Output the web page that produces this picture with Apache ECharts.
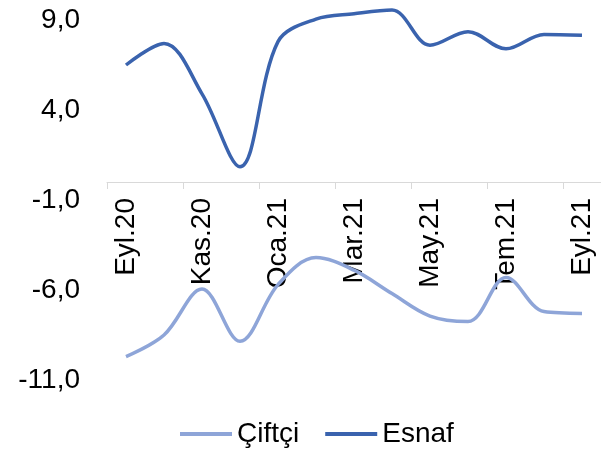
<!DOCTYPE html>
<html>
<head>
<meta charset="utf-8">
<script src="https://cdn.jsdelivr.net/npm/echarts@6/dist/echarts.min.js"></script>
<style>html,body{margin:0;padding:0;background:#fff}#c{width:601px;height:451px}</style>
</head>
<body>
<div id="c"></div>
<script>
const categories = ['Eyl.20','Eki.20','Kas.20','Ara.20','Oca.21','Şub.21','Mar.21','Nis.21','May.21','Haz.21','Tem.21','Ağu.21','Eyl.21'];
const ciftci = [-9.7, -8.5, -5.95, -8.85, -5.7, -4.2, -4.9, -6.2, -7.45, -7.75, -5.3, -7.2, -7.3];
const esnaf = [6.5, 7.7, 4.9, 0.85, 7.8, 9.05, 9.35, 9.55, 7.6, 8.35, 7.4, 8.2, 8.15];
const yTicks = {min: -11, max: 10, interval: 5};

const font = 'Liberation Sans, Arial, sans-serif';
const chart = echarts.init(document.getElementById('c'), null, {renderer: 'canvas'});
chart.setOption({
  animation: false,
  backgroundColor: '#ffffff',
  grid: {left: 107, right: 0, top: 2, bottom: 71, containLabel: false, outerBoundsMode: 'none'},
  legend: {
    top: 415, left: 175,
    icon: 'rect',
    itemWidth: 52, itemHeight: 4, itemGap: 26,
    textStyle: {fontFamily: font, fontSize: 28, color: '#000'},
    data: ['Çiftçi', 'Esnaf']
  },
  xAxis: {
    type: 'category',
    data: categories,
    boundaryGap: true,
    position: 'bottom',
    offset: -198,
    axisLine: {onZero: false, lineStyle: {color: '#d9d9d9', width: 1}},
    axisTick: {show: true, interval: 1, length: 7, lineStyle: {color: '#d9d9d9'}},
    axisLabel: {interval: 1, rotate: 90, margin: 16, fontFamily: font, fontSize: 28, color: '#000'}
  },
  yAxis: {
    type: 'value',
    min: yTicks.min, max: yTicks.max, interval: yTicks.interval,
    axisLine: {show: false}, axisTick: {show: false},
    splitLine: {show: false},
    axisLabel: {margin: 27, fontFamily: font, fontSize: 28, color: '#000', showMaxLabel: false,
      formatter: v => v > 9 ? '' : v.toFixed(1).replace('.', ',')}
  },
  series: [
    {name: 'Çiftçi', type: 'line', data: ciftci, smooth: 0.35, symbol: 'none', z: 5,
      lineStyle: {color: '#8ea5d8', width: 3.5}, itemStyle: {color: '#8ea5d8'}},
    {name: 'Esnaf', type: 'line', data: esnaf, smooth: 0.35, symbol: 'none', z: 5,
      lineStyle: {color: '#3a63ae', width: 3.5}, itemStyle: {color: '#3a63ae'}}
  ]
});
</script>
</body>
</html>
